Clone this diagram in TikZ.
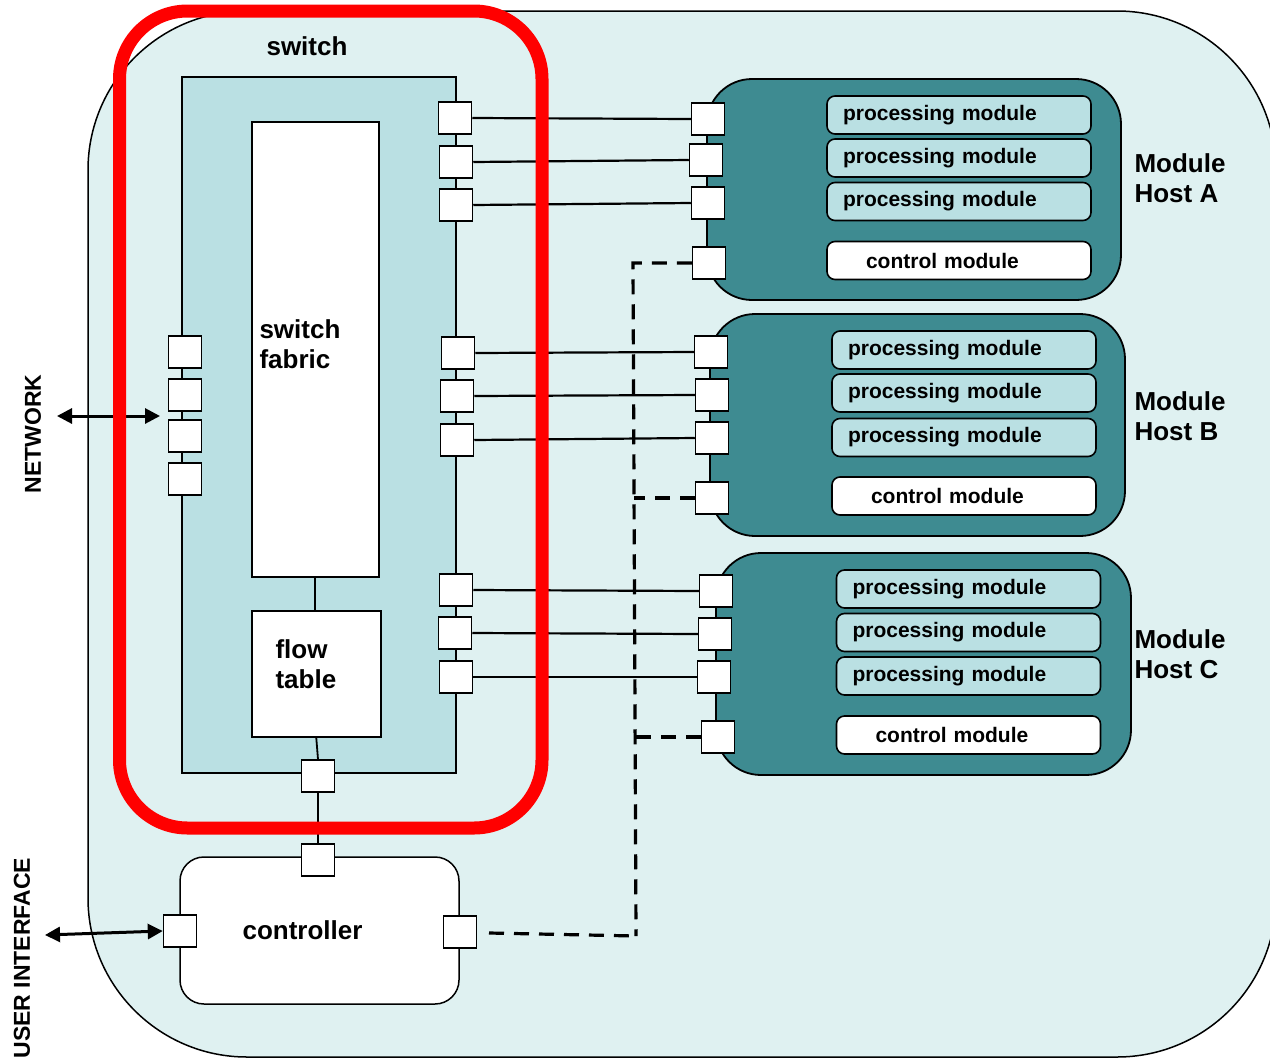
\documentclass[tikz,border=0pt]{standalone}
\usepackage{fontspec}
\setmainfont{Liberation Sans}
\usetikzlibrary{arrows.meta}
\definecolor{outerbg}{RGB}{223,241,241}
\definecolor{swbg}{RGB}{186,224,227}
\definecolor{hostbg}{RGB}{62,139,145}
\newcommand\lblbig{\fontsize{26}{30}\selectfont\bfseries}
\newcommand\lblmod{\fontsize{21}{24}\selectfont\bfseries}
\newcommand\lblside{\fontsize{23}{26}\selectfont\bfseries}
\begin{document}
\begin{tikzpicture}[x=1pt,y=-1pt,
  port/.style={draw, fill=white, line width=1.5pt, minimum width=33pt, minimum height=32pt, inner sep=0pt},
  hostbox/.style={draw, fill=hostbg, line width=1.8pt, rounded corners=45pt, inner sep=0pt},
  pmod/.style={draw, fill=swbg, line width=1.6pt, rounded corners=8pt, minimum width=264pt, minimum height=38pt, inner xsep=16pt, inner ysep=0pt, text width=232pt, align=left, font=\lblmod},
  cmod/.style={pmod, fill=white},
  whitebox/.style={draw, fill=white, line width=1.5pt, inner sep=0pt},
  conn/.style={line width=2.2pt},
  dashline/.style={line width=3.2pt, dash pattern=on 15pt off 10pt},
  bigarrow/.style={line width=3pt, {Triangle[length=15pt,width=15pt]}-{Triangle[length=15pt,width=15pt]}}
]
\useasboundingbox (0,0) rectangle (1270,1058);
\clip (0,0) rectangle (1270,1058);

% outer area
\draw[fill=outerbg, line width=1.5pt, rounded corners=159pt] (88,11) rectangle (1276,1057);

% switch
\draw[fill=swbg, line width=1.5pt] (182,77) rectangle (456,773);
\node[font=\lblbig] (swl) at (307,46) {switch};
\node[whitebox, minimum width=127pt, minimum height=455pt, anchor=north west] (sf) at (251,121) {};
\node[font=\lblbig, align=left, anchor=west] (sft) at (256,344) {switch\\fabric};
\node[whitebox, minimum width=129pt, minimum height=126pt, anchor=north west] (ft) at (251,610) {};
\node[font=\lblbig, align=left, anchor=west] (ftt) at (272,664) {flow\\table};
\draw[line width=1.8pt] (sf.south) -- (sf.south |- ft.north);

% hosts
\node[hostbox, minimum width=414pt, minimum height=221pt] (hA) at (914,189.5) {};
\node[hostbox, minimum width=415pt, minimum height=222pt] (hB) at (917.5,425) {};
\node[hostbox, minimum width=415pt, minimum height=222pt] (hC) at (923.5,664) {};

\node[pmod] (a1) at (959,115) {processing module};
\node[pmod] (a2) at (959,158) {processing module};
\node[pmod] (a3) at (959,201.5) {processing module};
\node[cmod] (ac) at (959,260.5) {\hspace*{23pt}control module};
\node[pmod] (b1) at (964,350) {processing module};
\node[pmod] (b2) at (964,393) {processing module};
\node[pmod] (b3) at (964,437.5) {processing module};
\node[cmod] (bc) at (964,496) {\hspace*{23pt}control module};
\node[pmod] (c1) at (968.5,589) {processing module};
\node[pmod] (c2) at (968.5,632.5) {processing module};
\node[pmod] (c3) at (968.5,676) {processing module};
\node[cmod] (cc) at (968.5,735) {\hspace*{23pt}control module};

\node[font=\lblbig, align=left, anchor=west] (lA) at (1131,178) {Module\\Host A};
\node[font=\lblbig, align=left, anchor=west] (lB) at (1131,416) {Module\\Host B};
\node[font=\lblbig, align=left, anchor=west] (lC) at (1131,654) {Module\\Host C};

% controller
\node[draw, fill=white, line width=1.5pt, rounded corners=24pt, minimum width=279pt, minimum height=147pt, inner sep=0pt, font=\lblbig] (ctl) at (319.5,930.5) {controller\hspace*{34pt}};

% switch ports
\node[port] (sr1) at (455,118) {};
\node[port] (sr2) at (456,162) {};
\node[port] (sr3) at (456,205) {};
\node[port] (sr4) at (458,353) {};
\node[port] (sr5) at (457,396) {};
\node[port] (sr6) at (457,440) {};
\node[port] (sr7) at (456,590) {};
\node[port] (sr8) at (455,633) {};
\node[port] (sr9) at (456,677) {};
\node[port] (sl1) at (185,352) {};
\node[port] (sl2) at (185,395) {};
\node[port] (sl3) at (185,436) {};
\node[port] (sl4) at (185,479) {};
\node[port] (sb) at (318,776) {};

% host ports
\node[port] (ha1) at (708,119) {};
\node[port] (ha2) at (706,160) {};
\node[port] (ha3) at (708,203) {};
\node[port] (hac) at (709,263) {};
\node[port] (hb1) at (711,352) {};
\node[port] (hb2) at (712,395) {};
\node[port] (hb3) at (712,438) {};
\node[port] (hbc) at (712,498) {};
\node[port] (hc1) at (716,591) {};
\node[port] (hc2) at (715,634) {};
\node[port] (hc3) at (714,677) {};
\node[port] (hcc) at (718,737) {};

% controller ports
\node[port] (ct) at (318,860) {};
\node[port] (cl) at (180,931) {};
\node[port] (cr) at (460,932) {};

% solid connectors
\draw[conn] (sr1.east) -- (ha1.west);
\draw[conn] (sr2.east) -- (ha2.west);
\draw[conn] (sr3.east) -- (ha3.west);
\draw[conn] (sr4.east) -- (hb1.west);
\draw[conn] (sr5.east) -- (hb2.west);
\draw[conn] (sr6.east) -- (hb3.west);
\draw[conn] (sr7.east) -- (hc1.west);
\draw[conn] (sr8.east) -- (hc2.west);
\draw[conn] (sr9.east) -- (hc3.west);
\draw[line width=1.8pt] (ft.south) -- (sb.north);
\draw[line width=1.8pt] (sb.south) -- (ct.north);

% dashed control connectors
\coordinate (d1) at (633,263);
\coordinate (d2) at (634,498);
\coordinate (d3) at (635,737);
\coordinate (d4) at (636,936);
\coordinate (d5) at (489,933);
\draw[dashline] (hac.west) -- (d1) -- (d4);
\draw[dashline] (d5) -- (d4);
\draw[dashline] (hbc.west) -- (d2);
\draw[dashline] (hcc.west) -- (d3);

% external arrows
\coordinate (netL) at (57,416);
\coordinate (netR) at (160,416);
\draw[bigarrow] (netL) -- (netR);
\coordinate (uiL) at (45,935);
\draw[bigarrow] (uiL) -- (cl.west);
\node[font=\lblside, rotate=90] (net) at (33,434) {NETWORK};
\node[font=\lblside, rotate=90] (ui) at (22,958) {USER INTERFACE};

% red highlight
\draw[red, line width=13pt, rounded corners=68pt] (119.5,11) rectangle (542,828);
\end{tikzpicture}
\end{document}
